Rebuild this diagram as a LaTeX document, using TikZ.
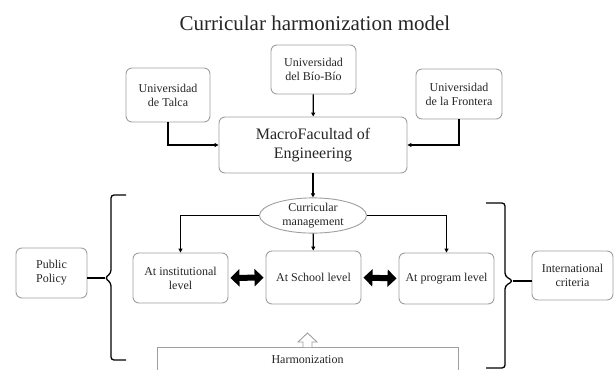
\documentclass[tikz,border=0pt]{standalone}
\usepackage{fontspec}
\setmainfont{Liberation Serif}
\usetikzlibrary{arrows.meta,shapes.geometric,calc}
\begin{document}
\begin{tikzpicture}[x=1pt,y=-1pt,
  txt/.style={text=black!85,font=\fontsize{12}{14}\selectfont,align=center},
  box/.style={txt,draw=gray!75,line width=0.9pt,rounded corners=6pt,fill=white,inner sep=1pt},
  conn/.style={draw=black,line width=1.3pt,-{Triangle[length=4pt,width=4pt]}},
  dbl/.style={draw=black,line width=6pt,{Triangle[length=9pt,width=17pt]}-{Triangle[length=9pt,width=17pt]},shorten <=2pt,shorten >=2pt},
  brace/.style={draw=black,line width=1.3pt,rounded corners=3pt}]
\useasboundingbox (0,0) rectangle (614,370);
\clip (0,0) rectangle (614,370);
\fill[white] (0,0) rectangle (614,370);

\node[text=black!85,font=\fontsize{21}{25}\selectfont] (title) at (315,23) {Curricular harmonization model};

\node[box,minimum width=84,minimum height=54] (talca) at (168,95) {Universidad\\de Talca};
\node[box,minimum width=85,minimum height=49] (biobio) at (313.5,69.5) {Universidad\\del Bío-Bío};
\node[box,minimum width=86,minimum height=50] (frontera) at (459,94) {Universidad\\de la Frontera};
\node[box,minimum width=188,minimum height=56,font=\fontsize{16}{19}\selectfont] (macro) at (313,145) {MacroFacultad of\\Engineering};

\node[txt,draw=gray!75,line width=0.9pt,ellipse,fill=white,minimum width=107,minimum height=35,inner sep=0pt] (cm) at (313,215.5) {Curricular\\management};

\node[box,minimum width=95,minimum height=50] (inst) at (180.5,278) {At institutional\\level};
\node[box,minimum width=95,minimum height=53] (school) at (313.5,277.5) {At School level};
\node[box,minimum width=95,minimum height=51] (program) at (446.5,278.5) {At program level};

\node[box,minimum width=71,minimum height=50] (public) at (51.5,273) {Public\\Policy};
\node[box,minimum width=81,minimum height=49] (intl) at (572.5,275.5) {International\\criteria};

\node[txt,draw=gray!75,line width=0.9pt,minimum width=301,text height=9pt,text depth=3pt,inner ysep=7pt,anchor=north] (harm) at (307.5,347) {Harmonization};

% connectors
\draw[conn] (talca.south) |- (macro.west);
\draw[conn] (frontera.south) |- (macro.east);
\draw[conn] (biobio) -- (macro);
\draw[conn] (macro) -- (cm);
\draw[conn] (cm.west) -| (inst.north);
\draw[conn] (cm.east) -| (program.north);
\draw[conn] (cm) -- (school);

\draw[dbl] (inst.east) -- (school.west);
\draw[dbl] (school.east) -- (program.west);

% braces
\coordinate (lb) at (105,278);
\coordinate (rb) at (513,281);
\draw[brace] (126,195) -- (111,195) -- (111,273) -- (lb) -- (111,283) -- (111,360) -- (126,360);
\draw[line width=1.3pt] (public.east |- lb) -- (lb);
\draw[brace] (486,203) -- (505,203) -- (505,276) -- (rb) -- (505,286) -- (505,368) -- (486,368);
\draw[line width=1.3pt] (rb) -- (intl.west |- rb);

% hollow arrow
\draw[draw=gray!75,line width=0.9pt,fill=white] (harm.north) ++(-4.5,0) -- ++(0,-5) -- ++(-5,0) -- ++(9.5,-9) -- ++(9.5,9) -- ++(-5,0) -- ++(0,5);
\end{tikzpicture}
\end{document}
